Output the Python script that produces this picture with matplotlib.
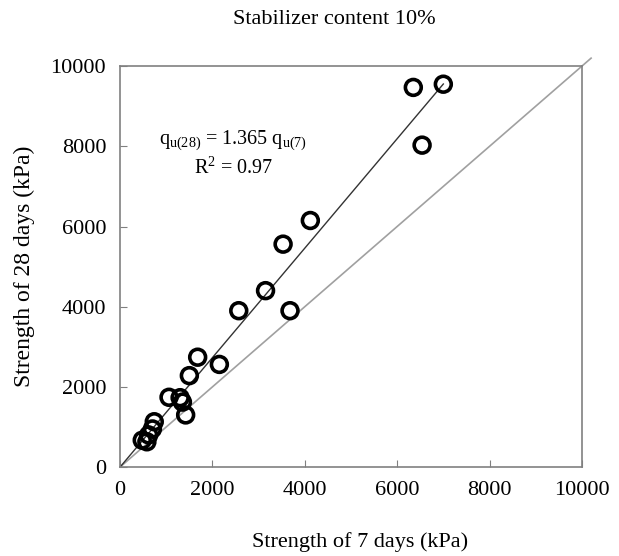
import matplotlib

matplotlib.use("Agg")
import matplotlib.pyplot as plt
import numpy as np

# 7-day vs 28-day unconfined strength, kPa
strength_7d = [7000, 6350, 6540, 4120, 3530, 3150, 3680, 2570, 1680, 2150,
               1500, 1060, 1300, 1350, 1420, 740, 700, 620, 480, 580]
strength_28d = [9550, 9470, 8030, 6150, 5560, 4400, 3900, 3900, 2740, 2560,
                2280, 1740, 1730, 1620, 1300, 1130, 950, 800, 670, 630]
fit_slope = 1.365
r_squared = 0.97
axis_ticks = [0, 2000, 4000, 6000, 8000, 10000]

plt.rcParams["font.family"] = ["Liberation Serif", "DejaVu Serif"]
plt.rcParams["mathtext.fontset"] = "custom"
plt.rcParams["mathtext.rm"] = "Liberation Serif"
plt.rcParams["mathtext.it"] = "Liberation Serif:italic"

fig = plt.figure(figsize=(6.19, 5.56), dpi=100)
ax = fig.add_axes([0.194, 0.160, 0.746, 0.721])

# 1:1 reference line, running a little past the corner
ax.plot([0, 10200], [0, 10200], color="#a0a0a0", lw=1.2, clip_on=False, zorder=1)

# regression through the origin, up to the largest 7-day value
fit_x = np.array([0, max(strength_7d)])
ax.plot(fit_x, fit_slope * fit_x, color="#333333", lw=1.0, zorder=2)

ax.scatter(strength_7d, strength_28d, s=130, facecolors="none",
           edgecolors="black", linewidths=2.6, zorder=3)

ax.text(2450, 8150, r"q$_{\mathrm{u(28)}}$ = %.3f q$_{\mathrm{u(7)}}$" % fit_slope,
        ha="center", va="center", fontsize=14.5)
ax.text(2450, 7450, r"R$^{2}$ = %.2f" % r_squared, ha="center", va="center", fontsize=14.5)

ax.set_xlim(0, 10000)
ax.set_ylim(0, 10000)
ax.set_xticks(axis_ticks)
ax.set_yticks(axis_ticks)
ax.tick_params(direction="in", length=5, color="#808080", labelsize=16, pad=10)
for spine in ax.spines.values():
    spine.set_color("#808080")
    spine.set_linewidth(1.2)

ax.set_xlabel("Strength of 7 days (kPa)", fontsize=16)
ax.xaxis.set_label_coords(0.519, -0.163)
ax.set_ylabel("Strength of 28 days (kPa)", fontsize=17, labelpad=11)
fig.text(0.54, 0.965, "Stabilizer content 10%", ha="center", va="center", fontsize=16)

fig.savefig("out.png", dpi=100)
